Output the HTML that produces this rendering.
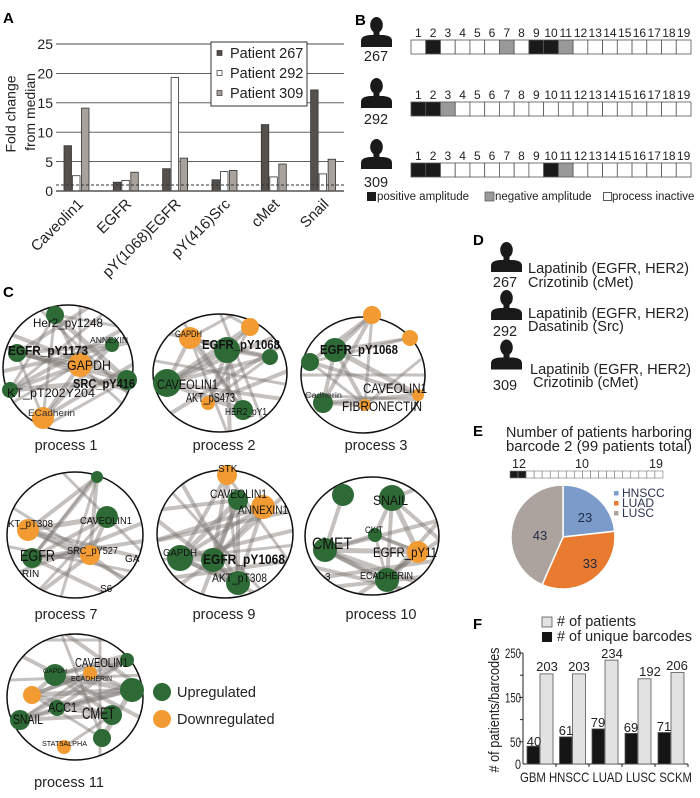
<!DOCTYPE html>
<html><head><meta charset="utf-8">
<style>
html,body{margin:0;padding:0;background:#fff;}
svg{display:block;font-family:"Liberation Sans",Arial,sans-serif;}
</style></head><body>
<svg width="700" height="798" viewBox="0 0 700 798" xmlns="http://www.w3.org/2000/svg">
<defs>
<symbol id="p" viewBox="0 0 31 30"><ellipse cx="15.5" cy="8" rx="6.3" ry="8" fill="#1a1a1a"/><rect x="12.5" y="13" width="6" height="6" fill="#1a1a1a"/><path d="M0,30 L0,24 C0,20 3,18.5 9,18 L22,18 C28,18.5 31,20 31,24 L31,30 Z" fill="#1a1a1a"/></symbol>
<clipPath id="c1"><ellipse cx="68" cy="368" rx="65" ry="63"/></clipPath>
<clipPath id="c2"><ellipse cx="220" cy="373" rx="67" ry="59"/></clipPath>
<clipPath id="c3"><ellipse cx="363" cy="375" rx="62" ry="58"/></clipPath>
<clipPath id="c7"><ellipse cx="75" cy="535" rx="68" ry="63"/></clipPath>
<clipPath id="c9"><ellipse cx="225" cy="534" rx="68" ry="64"/></clipPath>
<clipPath id="c10"><ellipse cx="372" cy="536" rx="67" ry="59"/></clipPath>
<clipPath id="c11"><ellipse cx="75" cy="697" rx="68" ry="63"/></clipPath>
</defs>

<!-- ================= PANEL A ================= -->
<text x="3" y="23" font-size="15" font-weight="bold">A</text>
<g stroke="#4a4a4a" stroke-width="0.9">
<line x1="56" y1="44" x2="344" y2="44"/>
<line x1="56" y1="73.4" x2="344" y2="73.4"/>
<line x1="56" y1="102.8" x2="344" y2="102.8"/>
<line x1="56" y1="132.2" x2="344" y2="132.2"/>
<line x1="56" y1="161.6" x2="344" y2="161.6"/>
</g>
<g font-size="14" text-anchor="end" fill="#222">
<text x="53" y="49">25</text><text x="53" y="78.5">20</text><text x="53" y="108">15</text>
<text x="53" y="137.5">10</text><text x="53" y="167">5</text><text x="53" y="196">0</text>
</g>
<g font-size="14" fill="#222" text-anchor="middle">
<text transform="translate(15.5,114) rotate(-90)">Fold change</text>
<text transform="translate(35,112) rotate(-90)">from median</text>
</g>
<g stroke="#333" stroke-width="0.8">
<rect x="64" y="145.7" width="7.5" height="45.3" fill="#56504c"/>
<rect x="72.5" y="175.7" width="7.5" height="15.3" fill="#fff"/>
<rect x="81.5" y="108.1" width="7.5" height="82.9" fill="#a9a19c"/>
<rect x="113.3" y="182.2" width="7.5" height="8.8" fill="#56504c"/>
<rect x="121.8" y="180.4" width="7.5" height="10.6" fill="#fff"/>
<rect x="130.8" y="172.2" width="7.5" height="18.8" fill="#a9a19c"/>
<rect x="162.6" y="168.7" width="7.5" height="22.3" fill="#56504c"/>
<rect x="171.1" y="77.5" width="7.5" height="113.5" fill="#fff"/>
<rect x="180.1" y="158.1" width="7.5" height="32.9" fill="#a9a19c"/>
<rect x="212" y="179.8" width="7.5" height="11.2" fill="#56504c"/>
<rect x="220.5" y="171.6" width="7.5" height="19.4" fill="#fff"/>
<rect x="229.5" y="170.4" width="7.5" height="20.6" fill="#a9a19c"/>
<rect x="261.3" y="124.6" width="7.5" height="66.4" fill="#56504c"/>
<rect x="269.8" y="176.9" width="7.5" height="14.1" fill="#fff"/>
<rect x="278.8" y="164" width="7.5" height="27" fill="#a9a19c"/>
<rect x="310.6" y="89.9" width="7.5" height="101.1" fill="#56504c"/>
<rect x="319.1" y="173.9" width="7.5" height="17.1" fill="#fff"/>
<rect x="328.1" y="159.2" width="7.5" height="31.8" fill="#a9a19c"/>
</g>
<line x1="56" y1="191" x2="344" y2="191" stroke="#555" stroke-width="1.6"/>
<line x1="56" y1="185" x2="344" y2="185" stroke="#333" stroke-width="1" stroke-dasharray="3,2"/>
<rect x="211" y="42" width="96" height="64" fill="#fff" stroke="#333" stroke-width="1"/>
<g stroke="#333" stroke-width="0.7">
<rect x="217" y="50.5" width="5" height="5" fill="#56504c"/>
<rect x="217" y="70.5" width="5" height="5" fill="#fff"/>
<rect x="217" y="90.5" width="5" height="5" fill="#a9a19c"/>
</g>
<g font-size="14.5" fill="#222">
<text x="230" y="58">Patient 267</text>
<text x="230" y="78">Patient 292</text>
<text x="230" y="98">Patient 309</text>
</g>
<g font-size="15" fill="#222" text-anchor="end">
<text transform="translate(84,205) rotate(-45)">Caveolin1</text>
<text transform="translate(132.3,205) rotate(-45)">EGFR</text>
<text transform="translate(181.6,205) rotate(-45)">pY(1068)EGFR</text>
<text transform="translate(231,205) rotate(-45)">pY(416)Src</text>
<text transform="translate(280.3,205) rotate(-45)">cMet</text>
<text transform="translate(329.6,205) rotate(-45)">Snail</text>
</g>

<!-- ================= PANEL B ================= -->
<text x="355" y="25" font-size="15" font-weight="bold">B</text>
<use href="#p" x="361" y="17" width="31" height="30"/>
<use href="#p" x="361" y="78" width="31" height="30"/>
<use href="#p" x="361" y="139" width="31" height="30"/>
<g font-size="14.5" fill="#222" text-anchor="middle">
<text x="376" y="61">267</text><text x="376" y="124">292</text><text x="376" y="187">309</text>
</g>
<g font-size="12" fill="#222" text-anchor="middle">
<text x="418.4" y="37">1</text><text x="433.1" y="37">2</text><text x="447.8" y="37">3</text><text x="462.6" y="37">4</text><text x="477.3" y="37">5</text><text x="492" y="37">6</text><text x="506.8" y="37">7</text><text x="521.5" y="37">8</text><text x="536.3" y="37">9</text><text x="551" y="37">10</text><text x="565.7" y="37">11</text><text x="580.5" y="37">12</text><text x="595.2" y="37">13</text><text x="609.9" y="37">14</text><text x="624.7" y="37">15</text><text x="639.4" y="37">16</text><text x="654.2" y="37">17</text><text x="668.9" y="37">18</text><text x="683.6" y="37">19</text>
</g>
<g font-size="12" fill="#222" text-anchor="middle">
<text x="418.4" y="99">1</text><text x="433.1" y="99">2</text><text x="447.8" y="99">3</text><text x="462.6" y="99">4</text><text x="477.3" y="99">5</text><text x="492" y="99">6</text><text x="506.8" y="99">7</text><text x="521.5" y="99">8</text><text x="536.3" y="99">9</text><text x="551" y="99">10</text><text x="565.7" y="99">11</text><text x="580.5" y="99">12</text><text x="595.2" y="99">13</text><text x="609.9" y="99">14</text><text x="624.7" y="99">15</text><text x="639.4" y="99">16</text><text x="654.2" y="99">17</text><text x="668.9" y="99">18</text><text x="683.6" y="99">19</text>
</g>
<g font-size="12" fill="#222" text-anchor="middle">
<text x="418.4" y="160">1</text><text x="433.1" y="160">2</text><text x="447.8" y="160">3</text><text x="462.6" y="160">4</text><text x="477.3" y="160">5</text><text x="492" y="160">6</text><text x="506.8" y="160">7</text><text x="521.5" y="160">8</text><text x="536.3" y="160">9</text><text x="551" y="160">10</text><text x="565.7" y="160">11</text><text x="580.5" y="160">12</text><text x="595.2" y="160">13</text><text x="609.9" y="160">14</text><text x="624.7" y="160">15</text><text x="639.4" y="160">16</text><text x="654.2" y="160">17</text><text x="668.9" y="160">18</text><text x="683.6" y="160">19</text>
</g>
<g stroke="#555" stroke-width="0.8" fill="#fff">
<!-- row 267 -->
<rect x="411" y="40" width="14.74" height="14"/><rect x="425.74" y="40" width="14.74" height="14" fill="#1a1a1a"/><rect x="440.47" y="40" width="14.74" height="14"/><rect x="455.21" y="40" width="14.74" height="14"/><rect x="469.95" y="40" width="14.74" height="14"/><rect x="484.68" y="40" width="14.74" height="14"/><rect x="499.42" y="40" width="14.74" height="14" fill="#999"/><rect x="514.16" y="40" width="14.74" height="14"/><rect x="528.89" y="40" width="14.74" height="14" fill="#1a1a1a"/><rect x="543.63" y="40" width="14.74" height="14" fill="#1a1a1a"/><rect x="558.37" y="40" width="14.74" height="14" fill="#999"/><rect x="573.1" y="40" width="14.74" height="14"/><rect x="587.84" y="40" width="14.74" height="14"/><rect x="602.58" y="40" width="14.74" height="14"/><rect x="617.32" y="40" width="14.74" height="14"/><rect x="632.05" y="40" width="14.74" height="14"/><rect x="646.79" y="40" width="14.74" height="14"/><rect x="661.53" y="40" width="14.74" height="14"/><rect x="676.26" y="40" width="14.74" height="14"/>
<!-- row 292 -->
<rect x="411" y="102" width="14.74" height="14" fill="#1a1a1a"/><rect x="425.74" y="102" width="14.74" height="14" fill="#1a1a1a"/><rect x="440.47" y="102" width="14.74" height="14" fill="#999"/><rect x="455.21" y="102" width="14.74" height="14"/><rect x="469.95" y="102" width="14.74" height="14"/><rect x="484.68" y="102" width="14.74" height="14"/><rect x="499.42" y="102" width="14.74" height="14"/><rect x="514.16" y="102" width="14.74" height="14"/><rect x="528.89" y="102" width="14.74" height="14"/><rect x="543.63" y="102" width="14.74" height="14"/><rect x="558.37" y="102" width="14.74" height="14"/><rect x="573.1" y="102" width="14.74" height="14"/><rect x="587.84" y="102" width="14.74" height="14"/><rect x="602.58" y="102" width="14.74" height="14"/><rect x="617.32" y="102" width="14.74" height="14"/><rect x="632.05" y="102" width="14.74" height="14"/><rect x="646.79" y="102" width="14.74" height="14"/><rect x="661.53" y="102" width="14.74" height="14"/><rect x="676.26" y="102" width="14.74" height="14"/>
<!-- row 309 -->
<rect x="411" y="163" width="14.74" height="14" fill="#1a1a1a"/><rect x="425.74" y="163" width="14.74" height="14" fill="#1a1a1a"/><rect x="440.47" y="163" width="14.74" height="14"/><rect x="455.21" y="163" width="14.74" height="14"/><rect x="469.95" y="163" width="14.74" height="14"/><rect x="484.68" y="163" width="14.74" height="14"/><rect x="499.42" y="163" width="14.74" height="14"/><rect x="514.16" y="163" width="14.74" height="14"/><rect x="528.89" y="163" width="14.74" height="14"/><rect x="543.63" y="163" width="14.74" height="14" fill="#1a1a1a"/><rect x="558.37" y="163" width="14.74" height="14" fill="#999"/><rect x="573.1" y="163" width="14.74" height="14"/><rect x="587.84" y="163" width="14.74" height="14"/><rect x="602.58" y="163" width="14.74" height="14"/><rect x="617.32" y="163" width="14.74" height="14"/><rect x="632.05" y="163" width="14.74" height="14"/><rect x="646.79" y="163" width="14.74" height="14"/><rect x="661.53" y="163" width="14.74" height="14"/><rect x="676.26" y="163" width="14.74" height="14"/>
</g>
<rect x="367" y="192" width="9" height="9" fill="#1a1a1a"/>
<rect x="485" y="192" width="9" height="9" fill="#999" stroke="#555" stroke-width="0.7"/>
<rect x="603.5" y="192.5" width="8" height="8" fill="#fff" stroke="#333" stroke-width="0.8"/>
<g font-size="11.5" fill="#222">
<text x="377" y="200">positive amplitude</text>
<text x="495" y="200">negative amplitude</text>
<text x="612" y="200">process inactive</text>
</g>

<!-- ================= PANEL C ================= -->
<text x="3" y="297" font-size="15" font-weight="bold">C</text>

<!-- circle 1 -->
<g clip-path="url(#c1)" stroke="#7d7571" stroke-opacity="0.45" stroke-linecap="round">
<line x1="17" y1="353" x2="80" y2="365" stroke-width="5"/>
<line x1="17" y1="353" x2="127" y2="380" stroke-width="4"/>
<line x1="17" y1="353" x2="112" y2="345" stroke-width="4"/>
<line x1="55" y1="315" x2="80" y2="365" stroke-width="4"/>
<line x1="55" y1="315" x2="127" y2="380" stroke-width="5"/>
<line x1="55" y1="315" x2="43" y2="418" stroke-width="3"/>
<line x1="80" y1="365" x2="43" y2="418" stroke-width="4"/>
<line x1="80" y1="365" x2="10" y2="390" stroke-width="4"/>
<line x1="10" y1="390" x2="127" y2="380" stroke-width="5"/>
<line x1="17" y1="353" x2="43" y2="418" stroke-width="3"/>
<line x1="112" y1="345" x2="43" y2="418" stroke-width="4"/>
<line x1="55" y1="315" x2="10" y2="390" stroke-width="3"/>
<line x1="0" y1="330" x2="127" y2="380" stroke-width="4"/>
<line x1="140" y1="320" x2="10" y2="390" stroke-width="4"/>
<line x1="80" y1="365" x2="140" y2="420" stroke-width="3"/>
<line x1="17" y1="353" x2="100" y2="300" stroke-width="4"/>
<line x1="43" y1="418" x2="140" y2="360" stroke-width="4"/>
<line x1="30" y1="300" x2="140" y2="405" stroke-width="3"/>
<line x1="0" y1="372" x2="140" y2="340" stroke-width="4"/>
<line x1="55" y1="315" x2="140" y2="330" stroke-width="3"/>
<line x1="10" y1="390" x2="120" y2="300" stroke-width="3"/>
<line x1="112" y1="345" x2="0" y2="410" stroke-width="3"/>
<line x1="127" y1="380" x2="20" y2="440" stroke-width="3"/>
<line x1="80" y1="365" x2="80" y2="300" stroke-width="3"/>
<line x1="0" y1="345" x2="140" y2="395" stroke-width="4"/>
</g>
<ellipse cx="68" cy="368" rx="65" ry="63" fill="none" stroke="#111" stroke-width="1.5"/>
<g>
<circle cx="55" cy="315" r="9" fill="#2e6a36"/>
<circle cx="112" cy="345" r="7" fill="#2e6a36"/>
<circle cx="17" cy="353" r="9" fill="#2e6a36"/>
<circle cx="80" cy="365" r="12" fill="#f29b33"/>
<circle cx="127" cy="380" r="10" fill="#2e6a36"/>
<circle cx="10" cy="390" r="8" fill="#2e6a36"/>
<circle cx="43" cy="418" r="11" fill="#f29b33"/>
</g>
<g fill="#111">
<text x="33" y="327" font-size="12" textLength="70" lengthAdjust="spacingAndGlyphs">Her2_py1248</text>
<text x="90" y="343" font-size="8.5" textLength="38" lengthAdjust="spacingAndGlyphs">ANNEXIN</text>
<text x="8" y="355" font-size="12.5" font-weight="bold" textLength="80" lengthAdjust="spacingAndGlyphs">EGFR_pY1173</text>
<text x="67" y="370" font-size="14" textLength="44" lengthAdjust="spacingAndGlyphs">GAPDH</text>
<text x="73" y="388" font-size="12.5" font-weight="bold" textLength="62" lengthAdjust="spacingAndGlyphs">SRC_pY416</text>
<text x="7" y="397" font-size="12" textLength="88" lengthAdjust="spacingAndGlyphs">KT_pT202Y204</text>
<text x="28" y="416" font-size="9" fill="#333" textLength="47" lengthAdjust="spacingAndGlyphs">ECadherin</text>
</g>
<text x="66" y="450" font-size="14.5" text-anchor="middle" fill="#222">process 1</text>

<!-- circle 2 -->
<g clip-path="url(#c2)" stroke="#7d7571" stroke-opacity="0.45" stroke-linecap="round">
<line x1="190" y1="338" x2="227" y2="350" stroke-width="4"/>
<line x1="190" y1="338" x2="167" y2="383" stroke-width="4"/>
<line x1="190" y1="338" x2="243" y2="410" stroke-width="4"/>
<line x1="250" y1="327" x2="227" y2="350" stroke-width="3"/>
<line x1="250" y1="327" x2="167" y2="383" stroke-width="5"/>
<line x1="250" y1="327" x2="208" y2="403" stroke-width="3"/>
<line x1="227" y1="350" x2="167" y2="383" stroke-width="5"/>
<line x1="227" y1="350" x2="208" y2="403" stroke-width="4"/>
<line x1="227" y1="350" x2="243" y2="410" stroke-width="4"/>
<line x1="227" y1="350" x2="270" y2="357" stroke-width="4"/>
<line x1="270" y1="357" x2="167" y2="383" stroke-width="4"/>
<line x1="270" y1="357" x2="208" y2="403" stroke-width="3"/>
<line x1="167" y1="383" x2="243" y2="410" stroke-width="5"/>
<line x1="190" y1="338" x2="260" y2="300" stroke-width="3"/>
<line x1="250" y1="327" x2="200" y2="300" stroke-width="3"/>
<line x1="270" y1="357" x2="153" y2="330" stroke-width="4"/>
<line x1="167" y1="383" x2="290" y2="330" stroke-width="4"/>
<line x1="243" y1="410" x2="175" y2="310" stroke-width="3"/>
<line x1="208" y1="403" x2="290" y2="370" stroke-width="4"/>
<line x1="230" y1="440" x2="227" y2="350" stroke-width="4"/>
<line x1="160" y1="420" x2="290" y2="340" stroke-width="4"/>
<line x1="167" y1="383" x2="290" y2="400" stroke-width="4"/>
<line x1="190" y1="338" x2="230" y2="440" stroke-width="3"/>
<line x1="150" y1="360" x2="290" y2="385" stroke-width="3"/>
<line x1="215" y1="300" x2="270" y2="440" stroke-width="3"/>
</g>
<ellipse cx="220" cy="373" rx="67" ry="59" fill="none" stroke="#111" stroke-width="1.5"/>
<circle cx="190" cy="338" r="11" fill="#f29b33"/>
<circle cx="250" cy="327" r="9" fill="#f29b33"/>
<circle cx="227" cy="350" r="13" fill="#2e6a36"/>
<circle cx="270" cy="357" r="8" fill="#2e6a36"/>
<circle cx="167" cy="383" r="14" fill="#2e6a36"/>
<circle cx="208" cy="403" r="7" fill="#f29b33"/>
<circle cx="243" cy="410" r="10" fill="#2e6a36"/>
<g fill="#111">
<text x="175" y="337" font-size="9" textLength="27" lengthAdjust="spacingAndGlyphs">GAPDH</text>
<text x="202" y="349" font-size="12.5" font-weight="bold" textLength="78" lengthAdjust="spacingAndGlyphs">EGFR_pY1068</text>
<text x="157" y="389" font-size="13.5" textLength="61" lengthAdjust="spacingAndGlyphs">CAVEOLIN1</text>
<text x="186" y="402" font-size="12.5" textLength="49" lengthAdjust="spacingAndGlyphs">AKT_pS473</text>
<text x="225" y="415" font-size="10" textLength="42" lengthAdjust="spacingAndGlyphs">HER2_pY1</text>
</g>
<text x="224" y="450" font-size="14.5" text-anchor="middle" fill="#222">process 2</text>

<!-- circle 3 -->
<g clip-path="url(#c3)" stroke="#7d7571" stroke-opacity="0.45" stroke-linecap="round">
<line x1="372" y1="315" x2="335" y2="350" stroke-width="4"/>
<line x1="372" y1="315" x2="310" y2="362" stroke-width="4"/>
<line x1="372" y1="315" x2="323" y2="403" stroke-width="4"/>
<line x1="372" y1="315" x2="365" y2="405" stroke-width="3"/>
<line x1="335" y1="350" x2="410" y2="338" stroke-width="3"/>
<line x1="335" y1="350" x2="418" y2="395" stroke-width="5"/>
<line x1="335" y1="350" x2="365" y2="405" stroke-width="4"/>
<line x1="310" y1="362" x2="418" y2="395" stroke-width="4"/>
<line x1="310" y1="362" x2="410" y2="338" stroke-width="3"/>
<line x1="323" y1="403" x2="418" y2="395" stroke-width="4"/>
<line x1="323" y1="403" x2="365" y2="405" stroke-width="4"/>
<line x1="335" y1="350" x2="323" y2="403" stroke-width="4"/>
<line x1="310" y1="362" x2="365" y2="405" stroke-width="3"/>
<line x1="300" y1="395" x2="425" y2="400" stroke-width="3"/>
<line x1="300" y1="375" x2="430" y2="375" stroke-width="3"/>
<line x1="365" y1="405" x2="420" y2="360" stroke-width="3"/>
</g>
<ellipse cx="363" cy="375" rx="62" ry="58" fill="none" stroke="#111" stroke-width="1.5"/>
<circle cx="372" cy="315" r="9" fill="#f29b33"/>
<circle cx="410" cy="338" r="8" fill="#f29b33"/>
<circle cx="335" cy="350" r="12" fill="#2e6a36"/>
<circle cx="310" cy="362" r="9" fill="#2e6a36"/>
<circle cx="418" cy="395" r="6" fill="#f29b33"/>
<circle cx="323" cy="403" r="10" fill="#2e6a36"/>
<circle cx="365" cy="405" r="6" fill="#f29b33"/>
<g fill="#111">
<text x="320" y="354" font-size="12.5" font-weight="bold" textLength="78" lengthAdjust="spacingAndGlyphs">EGFR_pY1068</text>
<text x="305" y="398" font-size="8" fill="#333" textLength="37" lengthAdjust="spacingAndGlyphs">Cadherin</text>
<text x="363" y="393" font-size="13.5" textLength="64" lengthAdjust="spacingAndGlyphs">CAVEOLIN1</text>
<text x="342" y="411" font-size="13.5" textLength="80" lengthAdjust="spacingAndGlyphs">FIBRONECTIN</text>
</g>
<text x="376" y="450" font-size="14.5" text-anchor="middle" fill="#222">process 3</text>

<!-- circle 7 -->
<g clip-path="url(#c7)" stroke="#7d7571" stroke-opacity="0.45" stroke-linecap="round">
<line x1="97" y1="477" x2="28" y2="530" stroke-width="4"/>
<line x1="97" y1="477" x2="32" y2="558" stroke-width="4"/>
<line x1="97" y1="477" x2="90" y2="555" stroke-width="4"/>
<line x1="97" y1="477" x2="60" y2="600" stroke-width="3"/>
<line x1="107" y1="517" x2="28" y2="530" stroke-width="5"/>
<line x1="107" y1="517" x2="32" y2="558" stroke-width="4"/>
<line x1="107" y1="517" x2="90" y2="555" stroke-width="4"/>
<line x1="28" y1="530" x2="90" y2="555" stroke-width="5"/>
<line x1="28" y1="530" x2="150" y2="560" stroke-width="4"/>
<line x1="32" y1="558" x2="90" y2="555" stroke-width="5"/>
<line x1="32" y1="558" x2="150" y2="540" stroke-width="4"/>
<line x1="32" y1="558" x2="120" y2="600" stroke-width="4"/>
<line x1="90" y1="555" x2="30" y2="600" stroke-width="4"/>
<line x1="90" y1="555" x2="0" y2="500" stroke-width="3"/>
<line x1="28" y1="530" x2="150" y2="590" stroke-width="3"/>
<line x1="0" y1="580" x2="150" y2="520" stroke-width="4"/>
<line x1="107" y1="517" x2="30" y2="600" stroke-width="3"/>
<line x1="90" y1="555" x2="150" y2="600" stroke-width="4"/>
<line x1="32" y1="558" x2="100" y2="470" stroke-width="3"/>
<line x1="0" y1="545" x2="150" y2="575" stroke-width="3"/>
<line x1="60" y1="470" x2="150" y2="560" stroke-width="3"/>
</g>
<ellipse cx="75" cy="535" rx="68" ry="63" fill="none" stroke="#111" stroke-width="1.5"/>
<circle cx="97" cy="477" r="6" fill="#2e6a36"/>
<circle cx="107" cy="517" r="11" fill="#2e6a36"/>
<circle cx="28" cy="530" r="11" fill="#f29b33"/>
<circle cx="32" cy="558" r="10" fill="#2e6a36"/>
<circle cx="90" cy="555" r="10" fill="#f29b33"/>
<g fill="#111">
<text x="8" y="527" font-size="10.5" textLength="45" lengthAdjust="spacingAndGlyphs">KT_pT308</text>
<text x="80" y="524" font-size="10.5" textLength="52" lengthAdjust="spacingAndGlyphs">CAVEOLIN1</text>
<text x="20" y="561" font-size="16" textLength="35" lengthAdjust="spacingAndGlyphs">EGFR</text>
<text x="67" y="554" font-size="10.5" textLength="51" lengthAdjust="spacingAndGlyphs">SRC_pY527</text>
<text x="125" y="562" font-size="10">GA</text>
<text x="22" y="577" font-size="10">RIN</text>
<text x="100" y="592" font-size="10">S6</text>
</g>
<text x="66" y="619" font-size="14.5" text-anchor="middle" fill="#222">process 7</text>

<!-- circle 9 -->
<g clip-path="url(#c9)" stroke="#7d7571" stroke-opacity="0.45" stroke-linecap="round">
<line x1="227" y1="475" x2="180" y2="558" stroke-width="4"/>
<line x1="227" y1="475" x2="213" y2="560" stroke-width="4"/>
<line x1="227" y1="475" x2="238" y2="583" stroke-width="3"/>
<line x1="238" y1="500" x2="180" y2="558" stroke-width="5"/>
<line x1="238" y1="500" x2="213" y2="560" stroke-width="5"/>
<line x1="238" y1="500" x2="238" y2="583" stroke-width="4"/>
<line x1="263" y1="507" x2="180" y2="558" stroke-width="4"/>
<line x1="263" y1="507" x2="213" y2="560" stroke-width="4"/>
<line x1="263" y1="507" x2="238" y2="583" stroke-width="4"/>
<line x1="180" y1="558" x2="213" y2="560" stroke-width="5"/>
<line x1="180" y1="558" x2="238" y2="583" stroke-width="5"/>
<line x1="213" y1="560" x2="238" y2="583" stroke-width="5"/>
<line x1="238" y1="500" x2="157" y2="510" stroke-width="4"/>
<line x1="263" y1="507" x2="157" y2="540" stroke-width="4"/>
<line x1="180" y1="558" x2="295" y2="530" stroke-width="4"/>
<line x1="213" y1="560" x2="290" y2="490" stroke-width="4"/>
<line x1="238" y1="583" x2="157" y2="520" stroke-width="4"/>
<line x1="180" y1="558" x2="270" y2="600" stroke-width="4"/>
<line x1="213" y1="560" x2="160" y2="600" stroke-width="4"/>
<line x1="157" y1="580" x2="295" y2="560" stroke-width="4"/>
<line x1="227" y1="475" x2="295" y2="570" stroke-width="3"/>
<line x1="238" y1="500" x2="200" y2="600" stroke-width="4"/>
<line x1="238" y1="583" x2="180" y2="480" stroke-width="4"/>
<line x1="160" y1="540" x2="295" y2="510" stroke-width="4"/>
<line x1="170" y1="490" x2="270" y2="600" stroke-width="3"/>
<line x1="157" y1="560" x2="295" y2="545" stroke-width="3"/>
</g>
<ellipse cx="225" cy="534" rx="68" ry="64" fill="none" stroke="#111" stroke-width="1.5"/>
<circle cx="227" cy="475" r="10" fill="#f29b33"/>
<circle cx="238" cy="500" r="10" fill="#2e6a36"/>
<circle cx="263" cy="507" r="12" fill="#f29b33"/>
<circle cx="180" cy="558" r="13" fill="#2e6a36"/>
<circle cx="213" cy="560" r="12" fill="#2e6a36"/>
<circle cx="238" cy="583" r="12" fill="#2e6a36"/>
<g fill="#111">
<text x="218" y="472" font-size="10">STK</text>
<text x="210" y="498" font-size="11.5" textLength="57" lengthAdjust="spacingAndGlyphs">CAVEOLIN1</text>
<text x="238" y="514" font-size="11.5" textLength="50" lengthAdjust="spacingAndGlyphs">ANNEXIN1</text>
<text x="163" y="556" font-size="10" textLength="34" lengthAdjust="spacingAndGlyphs">GAPDH</text>
<text x="203" y="564" font-size="13.5" font-weight="bold" textLength="82" lengthAdjust="spacingAndGlyphs">EGFR_pY1068</text>
<text x="212" y="582" font-size="11.5" textLength="55" lengthAdjust="spacingAndGlyphs">AKT_pT308</text>
</g>
<text x="224" y="619" font-size="14.5" text-anchor="middle" fill="#222">process 9</text>

<!-- circle 10 -->
<g clip-path="url(#c10)" stroke="#7d7571" stroke-opacity="0.45" stroke-linecap="round">
<line x1="343" y1="495" x2="325" y2="550" stroke-width="4"/>
<line x1="392" y1="498" x2="375" y2="535" stroke-width="4"/>
<line x1="392" y1="498" x2="418" y2="552" stroke-width="5"/>
<line x1="392" y1="498" x2="387" y2="580" stroke-width="4"/>
<line x1="392" y1="498" x2="440" y2="480" stroke-width="4"/>
<line x1="325" y1="550" x2="418" y2="552" stroke-width="5"/>
<line x1="325" y1="550" x2="387" y2="580" stroke-width="5"/>
<line x1="325" y1="550" x2="375" y2="535" stroke-width="4"/>
<line x1="325" y1="550" x2="440" y2="520" stroke-width="4"/>
<line x1="325" y1="550" x2="440" y2="590" stroke-width="5"/>
<line x1="375" y1="535" x2="418" y2="552" stroke-width="4"/>
<line x1="375" y1="535" x2="387" y2="580" stroke-width="3"/>
<line x1="418" y1="552" x2="387" y2="580" stroke-width="5"/>
<line x1="305" y1="580" x2="440" y2="560" stroke-width="4"/>
<line x1="305" y1="590" x2="440" y2="575" stroke-width="4"/>
<line x1="387" y1="580" x2="440" y2="520" stroke-width="4"/>
<line x1="392" y1="498" x2="440" y2="540" stroke-width="4"/>
<line x1="325" y1="550" x2="420" y2="600" stroke-width="4"/>
<line x1="350" y1="600" x2="440" y2="540" stroke-width="4"/>
<line x1="375" y1="535" x2="440" y2="560" stroke-width="3"/>
<line x1="305" y1="565" x2="440" y2="598" stroke-width="4"/>
<line x1="400" y1="480" x2="440" y2="500" stroke-width="3"/>
</g>
<ellipse cx="372" cy="536" rx="67" ry="59" fill="none" stroke="#111" stroke-width="1.5"/>
<circle cx="343" cy="495" r="11" fill="#2e6a36"/>
<circle cx="392" cy="498" r="13" fill="#2e6a36"/>
<circle cx="375" cy="535" r="7" fill="#2e6a36"/>
<circle cx="325" cy="550" r="12" fill="#2e6a36"/>
<circle cx="418" cy="552" r="11" fill="#f29b33"/>
<circle cx="387" cy="580" r="12" fill="#2e6a36"/>
<g fill="#111">
<text x="373" y="505" font-size="14" textLength="35" lengthAdjust="spacingAndGlyphs">SNAIL</text>
<text x="365" y="533" font-size="9" textLength="18" lengthAdjust="spacingAndGlyphs">CKIT</text>
<text x="312" y="549" font-size="17" textLength="40" lengthAdjust="spacingAndGlyphs">CMET</text>
<text x="373" y="557" font-size="13.5" textLength="64" lengthAdjust="spacingAndGlyphs">EGFR_pY11</text>
<text x="360" y="579" font-size="10" textLength="53" lengthAdjust="spacingAndGlyphs">ECADHERIN</text>
<text x="325" y="580" font-size="10">3</text>
</g>
<text x="381" y="619" font-size="14.5" text-anchor="middle" fill="#222">process 10</text>

<!-- circle 11 -->
<g clip-path="url(#c11)" stroke="#7d7571" stroke-opacity="0.45" stroke-linecap="round">
<line x1="55" y1="675" x2="132" y2="690" stroke-width="5"/>
<line x1="55" y1="675" x2="112" y2="715" stroke-width="4"/>
<line x1="55" y1="675" x2="32" y2="695" stroke-width="4"/>
<line x1="55" y1="675" x2="127" y2="660" stroke-width="4"/>
<line x1="90" y1="673" x2="132" y2="690" stroke-width="4"/>
<line x1="90" y1="673" x2="32" y2="695" stroke-width="4"/>
<line x1="90" y1="673" x2="20" y2="720" stroke-width="3"/>
<line x1="132" y1="690" x2="32" y2="695" stroke-width="5"/>
<line x1="132" y1="690" x2="57" y2="708" stroke-width="4"/>
<line x1="132" y1="690" x2="20" y2="720" stroke-width="4"/>
<line x1="32" y1="695" x2="112" y2="715" stroke-width="4"/>
<line x1="57" y1="708" x2="112" y2="715" stroke-width="4"/>
<line x1="20" y1="720" x2="112" y2="715" stroke-width="4"/>
<line x1="102" y1="738" x2="132" y2="690" stroke-width="5"/>
<line x1="102" y1="738" x2="32" y2="695" stroke-width="3"/>
<line x1="64" y1="747" x2="112" y2="715" stroke-width="3"/>
<line x1="127" y1="660" x2="32" y2="695" stroke-width="4"/>
<line x1="127" y1="660" x2="20" y2="720" stroke-width="4"/>
<line x1="10" y1="650" x2="145" y2="720" stroke-width="4"/>
<line x1="60" y1="630" x2="145" y2="690" stroke-width="4"/>
<line x1="100" y1="630" x2="100" y2="760" stroke-width="3"/>
<line x1="55" y1="675" x2="145" y2="650" stroke-width="4"/>
<line x1="57" y1="708" x2="127" y2="660" stroke-width="4"/>
<line x1="20" y1="720" x2="145" y2="680" stroke-width="4"/>
<line x1="102" y1="738" x2="60" y2="630" stroke-width="3"/>
<line x1="30" y1="640" x2="120" y2="640" stroke-width="3"/>
<line x1="10" y1="680" x2="145" y2="675" stroke-width="3"/>
</g>
<ellipse cx="75" cy="697" rx="68" ry="63" fill="none" stroke="#111" stroke-width="1.5"/>
<circle cx="127" cy="660" r="7" fill="#2e6a36"/>
<circle cx="55" cy="675" r="11" fill="#2e6a36"/>
<circle cx="90" cy="673" r="7" fill="#f29b33"/>
<circle cx="132" cy="690" r="12" fill="#2e6a36"/>
<circle cx="32" cy="695" r="9" fill="#f29b33"/>
<circle cx="57" cy="708" r="8" fill="#2e6a36"/>
<circle cx="112" cy="715" r="10" fill="#2e6a36"/>
<circle cx="20" cy="720" r="10" fill="#2e6a36"/>
<circle cx="102" cy="738" r="9" fill="#2e6a36"/>
<circle cx="64" cy="747" r="7" fill="#f29b33"/>
<g fill="#111">
<text x="75" y="667" font-size="12.5" textLength="53" lengthAdjust="spacingAndGlyphs">CAVEOLIN1</text>
<text x="43" y="673" font-size="6" textLength="24" lengthAdjust="spacingAndGlyphs">GAPDH</text>
<text x="71" y="681" font-size="7" textLength="41" lengthAdjust="spacingAndGlyphs">ECADHERIN</text>
<text x="48" y="712" font-size="13.5" textLength="29" lengthAdjust="spacingAndGlyphs">ACC1</text>
<text x="82" y="719" font-size="17" textLength="33" lengthAdjust="spacingAndGlyphs">CMET</text>
<text x="13" y="724" font-size="13.5" textLength="30" lengthAdjust="spacingAndGlyphs">SNAIL</text>
<text x="42" y="746" font-size="7" textLength="45" lengthAdjust="spacingAndGlyphs">STAT5ALPHA</text>
</g>
<text x="69" y="787" font-size="14.5" text-anchor="middle" fill="#222">process 11</text>

<!-- legend C -->
<circle cx="162" cy="692" r="9" fill="#2e6a36"/>
<circle cx="162" cy="719" r="9" fill="#f29b33"/>
<g font-size="14.5" fill="#222">
<text x="177" y="697">Upregulated</text>
<text x="177" y="724">Downregulated</text>
</g>

<!-- ================= PANEL D ================= -->
<text x="473" y="245" font-size="15" font-weight="bold">D</text>
<use href="#p" x="491" y="242" width="31" height="30"/>
<use href="#p" x="491" y="290" width="31" height="30"/>
<use href="#p" x="491" y="339" width="31" height="31"/>
<g font-size="14.5" fill="#222" text-anchor="middle">
<text x="505" y="287">267</text><text x="505" y="336">292</text><text x="505" y="390">309</text>
</g>
<g font-size="14.5" fill="#222">
<text x="528" y="273" textLength="161" lengthAdjust="spacingAndGlyphs">Lapatinib (EGFR, HER2)</text>
<text x="528" y="287">Crizotinib (cMet)</text>
<text x="528" y="318" textLength="161" lengthAdjust="spacingAndGlyphs">Lapatinib (EGFR, HER2)</text>
<text x="528" y="331">Dasatinib (Src)</text>
<text x="530" y="374" textLength="161" lengthAdjust="spacingAndGlyphs">Lapatinib (EGFR, HER2)</text>
<text x="533" y="387">Crizotinib (cMet)</text>
</g>

<!-- ================= PANEL E ================= -->
<text x="473" y="436" font-size="15" font-weight="bold">E</text>
<g font-size="14.5" fill="#222">
<text x="506" y="437" textLength="186" lengthAdjust="spacingAndGlyphs">Number of patients harboring</text>
<text x="506" y="451" textLength="186" lengthAdjust="spacingAndGlyphs">barcode 2 (99 patients total)</text>
</g>
<g font-size="12.5" fill="#222" text-anchor="middle">
<text x="519" y="468">12</text><text x="582" y="468">10</text><text x="656" y="468">19</text>
</g>
<g stroke="#777" stroke-width="0.6" fill="#fff">
<rect x="510" y="471" width="8.05" height="7" fill="#1a1a1a"/><rect x="518.05" y="471" width="8.05" height="7" fill="#1a1a1a"/><rect x="526.1" y="471" width="8.05" height="7"/><rect x="534.15" y="471" width="8.05" height="7"/><rect x="542.2" y="471" width="8.05" height="7"/><rect x="550.25" y="471" width="8.05" height="7"/><rect x="558.3" y="471" width="8.05" height="7"/><rect x="566.35" y="471" width="8.05" height="7"/><rect x="574.4" y="471" width="8.05" height="7"/><rect x="582.45" y="471" width="8.05" height="7"/><rect x="590.5" y="471" width="8.05" height="7"/><rect x="598.55" y="471" width="8.05" height="7"/><rect x="606.6" y="471" width="8.05" height="7"/><rect x="614.65" y="471" width="8.05" height="7"/><rect x="622.7" y="471" width="8.05" height="7"/><rect x="630.75" y="471" width="8.05" height="7"/><rect x="638.8" y="471" width="8.05" height="7"/><rect x="646.85" y="471" width="8.05" height="7"/><rect x="654.9" y="471" width="8.05" height="7"/>
</g>
<g stroke="#fff" stroke-width="1.5">
<path d="M563,537 L563,485 A52,52 0 0 1 614.68,531.24 Z" fill="#7b9bcb"/>
<path d="M563,537 L614.68,531.24 A52,52 0 0 1 542.15,584.64 Z" fill="#e97b30"/>
<path d="M563,537 L542.15,584.64 A52,52 0 0 1 563,485 Z" fill="#aca39e"/>
</g>
<g font-size="13" fill="#1f2a44" text-anchor="middle">
<text x="585" y="522">23</text><text x="590" y="568">33</text><text x="540" y="540">43</text>
</g>
<rect x="614" y="491" width="4.5" height="4.5" fill="#7b9bcb"/>
<rect x="614" y="501" width="4.5" height="4.5" fill="#e97b30"/>
<rect x="614" y="511" width="4.5" height="4.5" fill="#aca39e"/>
<g font-size="12" fill="#2b3550">
<text x="622" y="497">HNSCC</text><text x="622" y="507">LUAD</text><text x="622" y="517">LUSC</text>
</g>

<!-- ================= PANEL F ================= -->
<text x="473" y="629" font-size="15" font-weight="bold">F</text>
<rect x="542" y="617" width="10" height="10" fill="#e2e2e2" stroke="#555" stroke-width="0.8"/>
<rect x="542" y="632" width="10" height="10" fill="#151515"/>
<g font-size="14.5" fill="#222">
<text x="557" y="626">#  of patients</text>
<text x="557" y="641" textLength="135" lengthAdjust="spacingAndGlyphs"># of unique barcodes</text>
</g>
<text transform="translate(499,710) rotate(-90)" font-size="15" fill="#222" text-anchor="middle" textLength="125" lengthAdjust="spacingAndGlyphs"># of patients/barcodes</text>
<g font-size="14" fill="#222" text-anchor="end">
<text x="521" y="658" textLength="16" lengthAdjust="spacingAndGlyphs">250</text>
<text x="521" y="702.5" textLength="16" lengthAdjust="spacingAndGlyphs">150</text>
<text x="521" y="747" textLength="11" lengthAdjust="spacingAndGlyphs">50</text>
<text x="521" y="769" textLength="6" lengthAdjust="spacingAndGlyphs">0</text>
</g>
<g stroke="#222" stroke-width="1">
<line x1="523" y1="653" x2="523" y2="764"/>
<line x1="523" y1="764" x2="688" y2="764"/>
<line x1="519" y1="653" x2="523" y2="653"/><line x1="520" y1="675.2" x2="523" y2="675.2"/><line x1="519" y1="697.4" x2="523" y2="697.4"/><line x1="520" y1="719.6" x2="523" y2="719.6"/><line x1="519" y1="741.8" x2="523" y2="741.8"/>
<line x1="556" y1="764" x2="556" y2="767"/><line x1="589" y1="764" x2="589" y2="767"/><line x1="622" y1="764" x2="622" y2="767"/><line x1="655" y1="764" x2="655" y2="767"/><line x1="688" y1="764" x2="688" y2="767"/>
</g>
<g stroke="#555" stroke-width="0.8">
<rect x="527" y="746.2" width="12.5" height="17.8" fill="#151515"/>
<rect x="540" y="673.9" width="13" height="90.1" fill="#e2e2e2"/>
<rect x="559.5" y="736.9" width="12.5" height="27.1" fill="#151515"/>
<rect x="572.5" y="673.9" width="13" height="90.1" fill="#e2e2e2"/>
<rect x="592" y="728.9" width="12.5" height="35.1" fill="#151515"/>
<rect x="605" y="660.1" width="13" height="103.9" fill="#e2e2e2"/>
<rect x="625" y="733.4" width="12.5" height="30.6" fill="#151515"/>
<rect x="638" y="678.8" width="13" height="85.2" fill="#e2e2e2"/>
<rect x="658" y="732.5" width="12.5" height="31.5" fill="#151515"/>
<rect x="671" y="672.5" width="13" height="91.5" fill="#e2e2e2"/>
</g>
<g font-size="13" fill="#222" text-anchor="middle">
<text x="534" y="746">40</text><text x="547" y="671">203</text>
<text x="566" y="735">61</text><text x="579" y="671">203</text>
<text x="598" y="727">79</text><text x="612" y="658">234</text>
<text x="631" y="732">69</text><text x="650" y="676">192</text>
<text x="664" y="731">71</text><text x="677" y="670">206</text>
</g>
<text x="520" y="782" font-size="14" fill="#222" textLength="172" lengthAdjust="spacingAndGlyphs">GBM HNSCC LUAD LUSC SCKM</text>
</svg>
</body></html>
